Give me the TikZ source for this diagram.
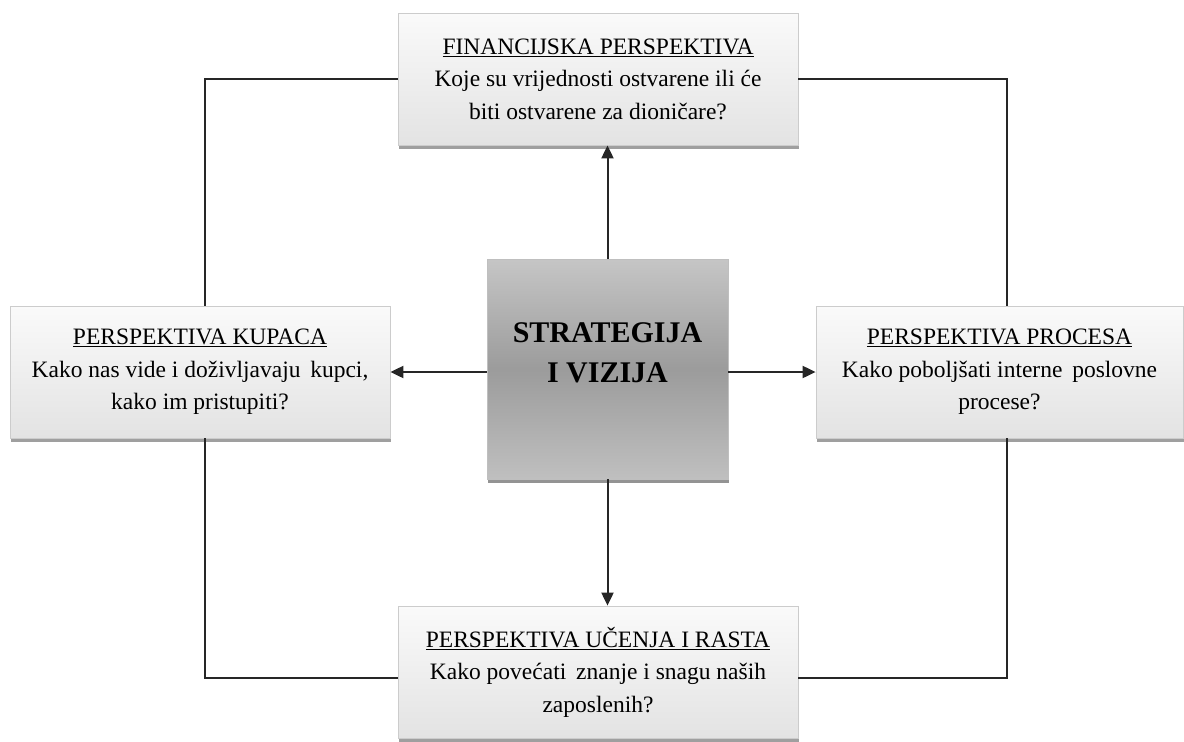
\documentclass[tikz,border=0pt]{standalone}
\usepackage{fontspec}
\setmainfont{Liberation Serif}
\usetikzlibrary{shadows,arrows.meta}
\begin{document}
\begin{tikzpicture}[x=1pt,y=-1pt,
  persp/.style={draw=gray!40, line width=0.8pt, top color=gray!4, bottom color=gray!22,
    drop shadow={shadow xshift=1pt, shadow yshift=-4pt, fill=gray!75, opacity=1},
    align=center, font=\fontsize{23.5}{32.5}\selectfont, inner sep=0pt},
  center/.style={draw=gray!50, line width=0.8pt, top color=gray!45, bottom color=gray!50, middle color=gray!78,
    drop shadow={shadow xshift=1pt, shadow yshift=-4pt, fill=gray!85, opacity=1},
    align=center, font=\bfseries\fontsize{30}{40}\selectfont, inner sep=0pt},
  conn/.style={line width=2pt, draw=black!85},
  arr/.style={conn, -{Triangle[length=13pt,width=12pt]}}
]
\useasboundingbox (0,0) rectangle (1184,742);
\node[persp, minimum width=400, minimum height=132] (fin) at (598,79)
  {\underline{FINANCIJSKA PERSPEKTIVA}\\Koje su vrijednosti ostvarene ili će\\biti ostvarene za dioničare?};
\node[persp, minimum width=380, minimum height=132] (kup) at (200,372)
  {\underline{PERSPEKTIVA KUPACA}\\Kako nas vide i doživljavaju\, kupci,\\kako im pristupiti?};
\node[persp, minimum width=367, minimum height=132] (proc) at (999.5,372)
  {\underline{PERSPEKTIVA PROCESA}\\Kako poboljšati interne\, poslovne\\procese?};
\node[persp, minimum width=400, minimum height=132] (uc) at (598,672)
  {\underline{PERSPEKTIVA UČENJA I RASTA}\\Kako povećati\, znanje i snagu naših\\zaposlenih?};
\node[center, minimum width=241, minimum height=220] (str) at (607.5,369)
  {STRATEGIJA\\I VIZIJA\\[-8pt]};
\coordinate (tl) at (205,79);
\coordinate (tr) at (1007,79);
\coordinate (bl) at (205,678);
\coordinate (br) at (1007,678);
\draw[conn] (uc.west |- bl) -- (bl) -- (tl |- kup.south);
\draw[conn] (tl |- kup.north) -- (tl) -- (fin.west);
\draw[conn] (fin.east) -- (tr) -- (tr |- proc.north);
\draw[conn] (tr |- proc.south) -- (br) -- (uc.east |- br);
\draw[arr] (str.north) -- (str.north |- fin.south);
\draw[arr] (str.south) -- (str.south |- uc.north);
\draw[arr] (str.west |- kup.east) -- (kup.east);
\draw[arr] (str.east |- proc.west) -- (proc.west);
\end{tikzpicture}
\end{document}
